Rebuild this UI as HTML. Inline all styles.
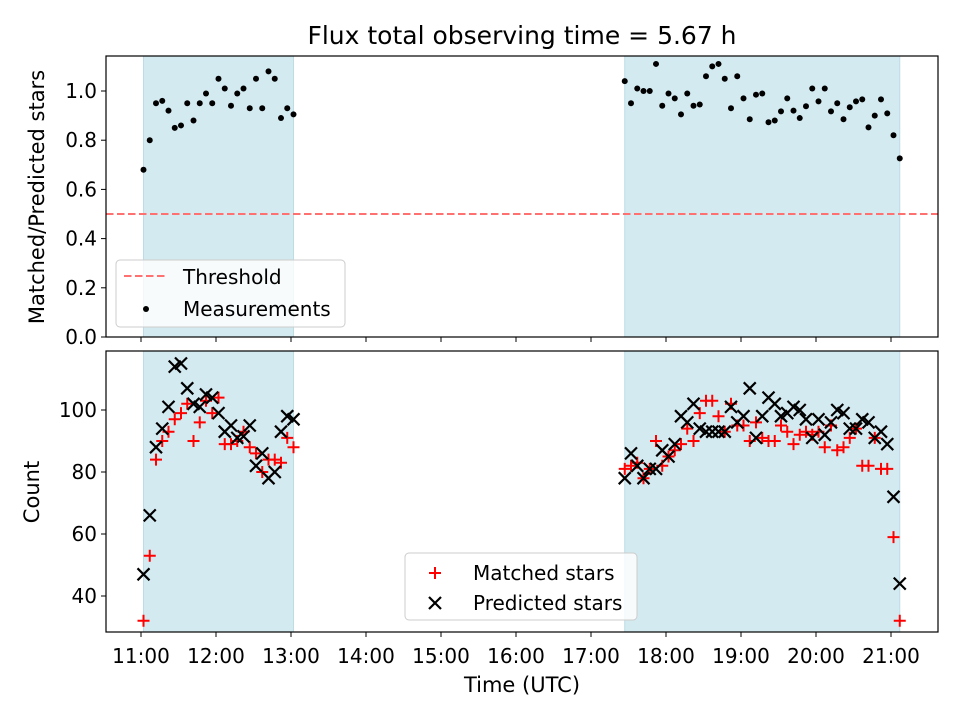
<!DOCTYPE html>
<html><head><meta charset="utf-8"><style>
body{margin:0;background:#fff}
svg{display:block;font-family:"DejaVu Sans","Liberation Sans",sans-serif}
</style></head><body>
<svg id="fig" width="960" height="720" viewBox="0 0 960 720">
<rect width="960" height="720" fill="#fff"/>
<text x="522" y="44" font-size="25" text-anchor="middle" fill="#000">Flux total observing time = 5.67 h</text>
<g id="topPanel"></g>
<g id="botPanel"></g>
<text x="522" y="692" font-size="21" text-anchor="middle">Time (UTC)</text>
<text transform="translate(44,197) rotate(-90)" font-size="21" text-anchor="middle">Matched/Predicted stars</text>
<text transform="translate(39,492) rotate(-90)" font-size="21" text-anchor="middle">Count</text>
</svg>
<script>
const times = ["11:02","11:07","11:12","11:17","11:22","11:27","11:32","11:37","11:42","11:47","11:52","11:57","12:02","12:07","12:12","12:17","12:22","12:27","12:32","12:37","12:42","12:47","12:52","12:57","13:02",
"17:27","17:32","17:37","17:42","17:47","17:52","17:57","18:02","18:07","18:12","18:17","18:22","18:27","18:32","18:37","18:42","18:47","18:52","18:57","19:02","19:07","19:12","19:17","19:22","19:27","19:32","19:37","19:42","19:47","19:52","19:57","20:02","20:07","20:12","20:17","20:22","20:27","20:32","20:37","20:42","20:47","20:52","20:57","21:02","21:07"];
const ratio = [0.68,0.80,0.95,0.96,0.92,0.85,0.86,0.95,0.88,0.95,0.99,0.95,1.05,1.01,0.94,0.99,1.01,0.93,1.05,0.93,1.08,1.05,0.89,0.93,0.905,
1.04,0.95,1.01,1.00,1.00,1.11,0.94,0.99,0.97,0.905,0.99,0.94,0.945,1.06,1.10,1.11,1.05,0.93,1.06,0.97,0.885,0.985,0.99,0.873,0.88,0.917,0.97,0.92,0.89,0.938,1.01,0.958,1.01,0.917,0.95,0.885,0.934,0.958,0.966,0.852,0.90,0.966,0.909,0.82,0.726];
const predicted = [47,66,88,94,101,114,115,107,102,101,105,104,99,93,95,91,91.5,95,82,86,78,80,93,98,97,
78,86,82,78,81,81,87,85,89,98,96,102,94,93,93,93,93,101,96,98,107,91,98,104,102,98,99,101,100,97,91,97,92,96,100,99,94,94,97,96,91,93,89,72,44];
const matched = [32,53,84,90,93,97,99,102,90,96,103,99,104,89,89,90,93,88,86,80,84,84,83,91,88,
81,82,83,78,81,90,82,85,87,89,94,90,99,103,103,98,93,102,95,95,90,96,91,90,90,95,93,89,92,93,92,93,88,95,87,88,91,94,82,82,91,81,81,59,32];
const sessions = [["11:02","13:02"],["17:27","21:07"]];
const threshold = 0.5;
const xTicks = ["11:00","12:00","13:00","14:00","15:00","16:00","17:00","18:00","19:00","20:00","21:00"];
const topTicks = [0.0,0.2,0.4,0.6,0.8,1.0];
const botTicks = [40,60,80,100];

const NS="http://www.w3.org/2000/svg";
function mk(tag,attrs,parent){const e=document.createElementNS(NS,tag);for(const k in attrs)e.setAttribute(k,attrs[k]);parent.appendChild(e);return e;}
function hrs(s){const p=s.split(":");return +p[0]+p[1]/60;}
const X0=106,X1=938;
function xs(t){return 141+(hrs(t)-11)*75;}
const PT={y0:56,y1:337}, PB={y0:351,y1:632};
function yTop(v){return 337-v*246;}
function yBot(v){return 410-(v-100)*3.1;}

function panel(g,P,yf,ticks,fmt){
  for(const s of sessions){
    const r=mk('rect',{x:xs(s[0]),y:P.y0,width:xs(s[1])-xs(s[0]),height:P.y1-P.y0,fill:'#d4eaf1',stroke:'#bcdce6','stroke-width':1},g);
    
    
  }
  for(const t of xTicks){
    const x=xs(t);
    const l=mk('line',{x1:x,x2:x,y1:P.y1,y2:P.y1+5,stroke:'#000','stroke-width':1},g);
    
    
  }
  for(const v of ticks){
    const y=yf(v);
    const l=mk('line',{x1:X0-5,x2:X0,y1:y,y2:y,stroke:'#000','stroke-width':1},g);
    
    
    const tx=mk('text',{x:X0-9,y:y+7,'font-size':20,'text-anchor':'end'},g);
    tx.textContent=fmt(v);
    
    
  }
}
const topG=document.getElementById('topPanel'), botG=document.getElementById('botPanel');
panel(topG,PT,yTop,topTicks,v=>v.toFixed(1));
panel(botG,PB,yBot,botTicks,v=>String(v));

const th=mk('line',{x1:X0,x2:X1,y1:yTop(threshold),y2:yTop(threshold),stroke:'#ff7070','stroke-width':2,'stroke-dasharray':'7.5,3.5'},topG);


ratio.forEach((v,i)=>{
  const c=mk('circle',{cx:xs(times[i]),cy:yTop(v),r:3,fill:'#000'},topG);
  
  
});
function plus(g,x,y,col){return mk('path',{d:`M${x-6} ${y}H${x+6}M${x} ${y-6}V${y+6}`,stroke:col,'stroke-width':2,fill:'none'},g);}
function cross(g,x,y,col){return mk('path',{d:`M${x-6} ${y-6}L${x+6} ${y+6}M${x-6} ${y+6}L${x+6} ${y-6}`,stroke:col,'stroke-width':2.2,fill:'none'},g);}
matched.forEach((v,i)=>{
  const p=plus(botG,xs(times[i]),yBot(v),'#f00');
  
  
});
predicted.forEach((v,i)=>{
  const p=cross(botG,xs(times[i]),yBot(v),'#000');
  
  
});
xTicks.forEach(t=>{
  const tx=mk('text',{x:xs(t),y:663,'font-size':20,'text-anchor':'middle'},botG);
  tx.textContent=t;
  
  
});
[PT,PB].forEach(P=>{
  const f=mk('rect',{x:X0,y:P.y0,width:X1-X0,height:P.y1-P.y0,fill:'none',stroke:'#000','stroke-width':1.2},P===PT?topG:botG);
  
  
});
const lg1=mk('g',{},topG);


mk('rect',{x:116,y:260,width:229,height:67,rx:4,fill:'#fff','fill-opacity':0.8,stroke:'#ccc'},lg1);
mk('line',{x1:124,x2:166,y1:276,y2:276,stroke:'#ff7070','stroke-width':2,'stroke-dasharray':'7.5,3.5'},lg1);
let t1=mk('text',{x:183,y:284,'font-size':20},lg1);t1.textContent='Threshold';


mk('circle',{cx:146,cy:309,r:3,fill:'#000'},lg1);
let t2=mk('text',{x:183,y:316,'font-size':20},lg1);t2.textContent='Measurements';


const lg2=mk('g',{},botG);


mk('rect',{x:405,y:553,width:232,height:67,rx:4,fill:'#fff','fill-opacity':0.8,stroke:'#ccc'},lg2);
plus(lg2,435,573,'#f00');
let t3=mk('text',{x:473,y:580,'font-size':20},lg2);t3.textContent='Matched stars';


cross(lg2,435,603,'#000');
let t4=mk('text',{x:473,y:610,'font-size':20},lg2);t4.textContent='Predicted stars';


</script>
</body></html>
